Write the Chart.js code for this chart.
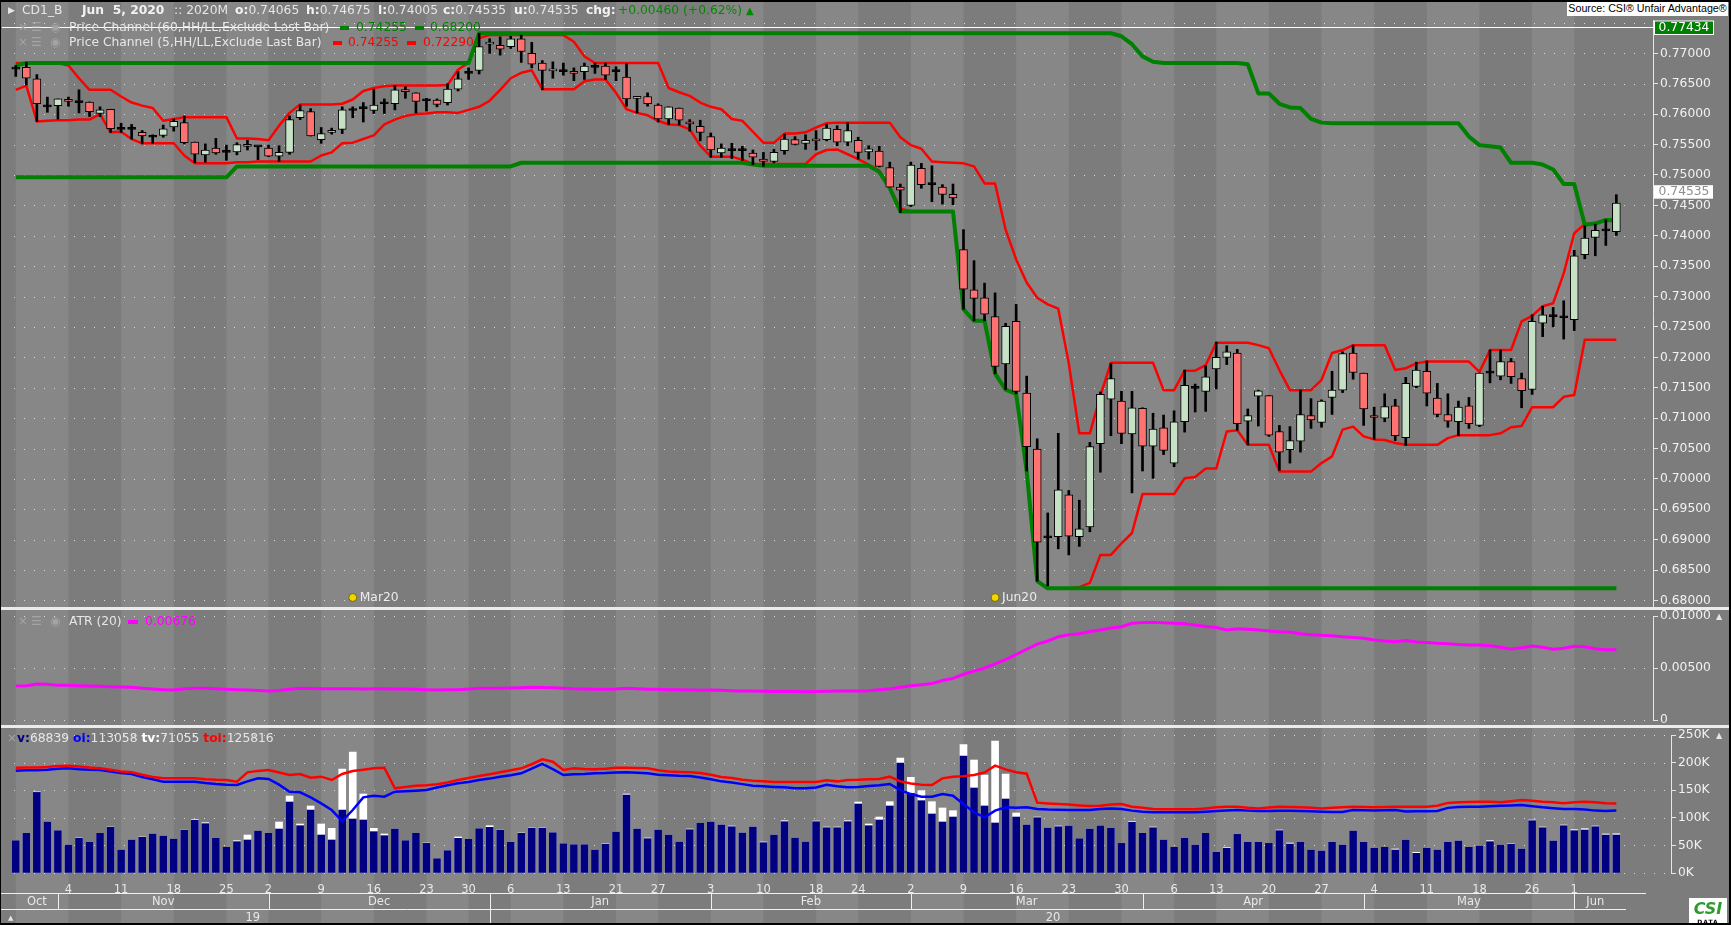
<!DOCTYPE html>
<html>
<head>
<meta charset="utf-8">
<script src="https://cdn.jsdelivr.net/npm/chart.js"></script>
<style>
  body { margin:0; width:1731px; height:925px; overflow:hidden; position:relative; background:#7c7c7c;
         font-family:'DejaVu Sans', sans-serif; font-size:12.3px; color:#e6e6e6; }
  canvas { position:absolute; left:0; }
  .t { position:absolute; white-space:pre; line-height:15px; }
  .b { font-weight:bold; color:#f2f2f2; }
  .ic { position:absolute; color:#a4a4a4; line-height:15px; font-size:12px; }
  .sq { position:absolute; width:9px; height:4px; }
  .sep { position:absolute; left:0; width:1731px; height:3px; background:#ececec; }
</style>
</head>
<body>
<canvas id="main" width="1731" height="607" style="top:0"></canvas>
<div class="sep" style="top:607px"></div>
<canvas id="atr" width="1731" height="115" style="top:610px"></canvas>
<div class="sep" style="top:725px"></div>
<canvas id="vol" width="1731" height="197" style="top:728px"></canvas>

<!-- header line -->
<div class="t" style="left:8px;top:3px;font-size:9px">▶</div>
<div class="t" style="left:22px;top:3px">CD1_B</div>
<div class="t b" style="left:82px;top:3px">Jun  5, 2020</div>
<div class="t" style="left:174px;top:3px">:: 2020M</div>
<div class="t" style="left:235px;top:3px"><b class="b">o:</b>0.74065</div>
<div class="t" style="left:306px;top:3px"><b class="b">h:</b>0.74675</div>
<div class="t" style="left:378px;top:3px"><b class="b">l:</b>0.74005</div>
<div class="t" style="left:443px;top:3px"><b class="b">c:</b>0.74535</div>
<div class="t" style="left:514px;top:3px"><b class="b">u:</b>0.74535</div>
<div class="t b" style="left:586px;top:3px">chg:</div>
<div class="t" style="left:618px;top:3px;color:#008a00">+0.00460 (+0.62%)</div>
<div class="t" style="left:746px;top:3px;color:#008a00;font-size:10px">▲</div>
<div class="t" style="left:1567px;top:1px;width:161px;height:15px;background:#fff;color:#000;font-family:'Liberation Sans';font-size:10.7px;text-align:center">Source: CSI® Unfair Advantage®</div>

<!-- price channel legends -->
<div class="ic" style="left:18px;top:20px">×</div><div class="ic" style="left:31px;top:20px">☰</div><div class="ic" style="left:50px;top:20px">◉</div>
<div class="t" style="left:69px;top:20px">Price Channel (60,HH/LL,Exclude Last Bar)</div>
<div class="sq" style="left:340px;top:26px;background:#008000"></div>
<div class="t" style="left:356px;top:20px;color:#008000">0.74255</div>
<div class="sq" style="left:415px;top:26px;background:#008000"></div>
<div class="t" style="left:430px;top:20px;color:#008000">0.68200</div>

<div class="ic" style="left:18px;top:35px">×</div><div class="ic" style="left:31px;top:35px">☰</div><div class="ic" style="left:50px;top:35px">◉</div>
<div class="t" style="left:69px;top:35px">Price Channel (5,HH/LL,Exclude Last Bar)</div>
<div class="sq" style="left:333px;top:41px;background:#ff0000"></div>
<div class="t" style="left:348px;top:35px;color:#ff0000">0.74255</div>
<div class="sq" style="left:407px;top:41px;background:#ff0000"></div>
<div class="t" style="left:423px;top:35px;color:#ff0000">0.72290</div>

<!-- ATR legend -->
<div class="ic" style="left:18px;top:614px">×</div><div class="ic" style="left:31px;top:614px">☰</div><div class="ic" style="left:50px;top:614px">◉</div>
<div class="t" style="left:69px;top:614px">ATR (20)</div>
<div class="sq" style="left:128px;top:620px;width:10px;background:#ff00ff"></div>
<div class="t" style="left:145px;top:614px;color:#ff00ff">0.00676</div>
<div class="t" style="left:1716px;top:609px;font-size:8px">▲</div>

<!-- volume legend -->
<div class="ic" style="left:7px;top:731px">×</div>
<div class="t" style="left:17px;top:731px"><b style="color:#000080">v:</b>68839 <b style="color:#0000ff">oi:</b>113058 <b style="color:#fff">tv:</b>71055 <b style="color:#ff0000">toi:</b>125816</div>
<div class="t" style="left:1716px;top:728px;font-size:8px">▲</div>
<div class="t" style="left:8px;top:911px;font-size:7px">▲</div>

<!-- CSI logo -->
<div style="position:absolute;left:1689px;top:898px;width:38px;height:25px;background:#fff;text-align:center;line-height:1">
  <div style="font:italic bold 16px 'DejaVu Sans';color:#2f9a2f;margin-top:1px">CSI</div>
  <div style="font:bold 6px 'DejaVu Sans';color:#000;letter-spacing:1px">DATA</div>
</div>
<div style="position:absolute;left:0;top:0;width:1731px;height:925px;box-sizing:border-box;border:2px solid #000;border-left-width:1px;pointer-events:none"></div>

<script>
// ---- trading days (categories) ----
const holidays = ['2019-11-28', '2019-12-25', '2020-01-01', '2020-01-20', '2020-02-17', '2020-04-10', '2020-05-25'];
const dates = [];
for (let d = new Date(Date.UTC(2019, 9, 28)); d <= new Date(Date.UTC(2020, 5, 5)); d.setUTCDate(d.getUTCDate() + 1)) {
  const s = d.toISOString().slice(0, 10);
  const wd = d.getUTCDay();
  if (wd === 0 || wd === 6 || holidays.includes(s)) continue;
  dates.push(s);
}
const monthNames = ['Jan', 'Feb', 'Mar', 'Apr', 'May', 'Jun', 'Jul', 'Aug', 'Sep', 'Oct', 'Nov', 'Dec'];

// ---- OHLC ----
const open = [
  .7674, .7677, .7658, .7612, .7614, .7624, .7619, .7620, .7601, .7608,
  .7575, .7575, .7570, .7562, .7565, .7579, .7586, .7554, .7533, .7544,
  .7537, .7538, .7550, .7546, .7544, .7531, .7537, .7594, .7604, .7558,
  .7570, .7575, .7606, .7609, .7606, .7617, .7617, .7640, .7635, .7622,
  .7623, .7619, .7641, .7667, .7672, .7715, .7713, .7711, .7724, .7700,
  .7684, .7671, .7670, .7670, .7670, .7677, .7679, .7670, .7661, .7626,
  .7629, .7615, .7592, .7610, .7587, .7580, .7563, .7536, .7540, .7540,
  .7536, .7526, .7522, .7540, .7558, .7552, .7559, .7558, .7575, .7554,
  .7557, .7538, .7539, .7512, .7480, .7450, .7511, .7484, .7480, .7468,
  .7377, .7311, .7298, .7267, .7189, .7259, .7141, .7049, .6903, .6905,
  .6974, .6905, .6921, .7058, .7131, .7128, .7074, .7116, .7054, .7084,
  .7026, .7094, .7149, .7144, .7181, .7200, .7207, .7095, .7136, .7137,
  .7078, .7048, .7062, .7104, .7093, .7134, .7146, .7207, .7174, .7104,
  .7100, .7120, .7068, .7152, .7177, .7133, .7106, .7094, .7120, .7088,
  .7174, .7169, .7193, .7165, .7147, .7256, .7267, .7265, .7262, .7369,
  .7397, .7408, .74065];
const high = [
  .7680, .7685, .7665, .7628, .7625, .7628, .7640, .7620, .7612, .7608,
  .7585, .7583, .7573, .7566, .7582, .7592, .7597, .7554, .7551, .7560,
  .7549, .7553, .7557, .7547, .7549, .7548, .7597, .7615, .7609, .7578,
  .7577, .7612, .7612, .7619, .7641, .7625, .7647, .7645, .7635, .7626,
  .7625, .7650, .7670, .7676, .7733, .7724, .7727, .7728, .7730, .7718,
  .7688, .7686, .7684, .7676, .7684, .7684, .7684, .7678, .7683, .7629,
  .7635, .7617, .7612, .7610, .7591, .7590, .7569, .7551, .7552, .7547,
  .7541, .7537, .7542, .7567, .7563, .7566, .7573, .7583, .7581, .7586,
  .7562, .7548, .7547, .7521, .7485, .7521, .7519, .7515, .7484, .7485,
  .7410, .7359, .7322, .7306, .7256, .7287, .7169, .7066, .6944, .7075,
  .6981, .6965, .7060, .7143, .7190, .7144, .7144, .7117, .7108, .7105,
  .7112, .7179, .7156, .7186, .7225, .7219, .7213, .7115, .7146, .7137,
  .7088, .7086, .7146, .7132, .7130, .7177, .7209, .7220, .7174, .7118,
  .7140, .7131, .7167, .7192, .7194, .7157, .7140, .7128, .7134, .7174,
  .7212, .7212, .7198, .7174, .7270, .7284, .7282, .7293, .7376, .7416,
  .7419, .7426, .74675];
const low = [
  .7662, .7648, .7588, .7603, .7592, .7613, .7602, .7596, .7596, .7570,
  .7570, .7559, .7551, .7552, .7562, .7572, .7551, .7520, .7521, .7534,
  .7524, .7533, .7541, .7525, .7530, .7522, .7534, .7591, .7564, .7552,
  .7567, .7568, .7594, .7587, .7601, .7601, .7607, .7626, .7602, .7605,
  .7612, .7615, .7638, .7657, .7666, .7700, .7697, .7708, .7685, .7676,
  .7640, .7659, .7664, .7655, .7657, .7667, .7657, .7655, .7613, .7602,
  .7613, .7587, .7583, .7582, .7572, .7556, .7529, .7529, .7527, .7524,
  .7517, .7514, .7520, .7534, .7549, .7542, .7541, .7556, .7548, .7548,
  .7526, .7526, .7513, .7480, .7438, .7448, .7478, .7456, .7452, .7451,
  .7279, .7260, .7260, .7173, .7147, .7140, .7013, .6832, .6824, .6885,
  .6875, .6889, .6913, .7011, .7071, .7058, .6977, .7013, .7001, .7040,
  .7020, .7077, .7110, .7111, .7148, .7188, .7080, .7056, .7087, .7070,
  .7014, .7026, .7044, .7083, .7085, .7106, .7142, .7164, .7088, .7065,
  .7094, .7063, .7055, .7150, .7120, .7102, .7085, .7071, .7083, .7086,
  .7158, .7163, .7157, .7117, .7139, .7234, .7250, .7230, .7244, .7362,
  .7367, .7384, .74005];
const close = [
  .7674, .7659, .7617, .7612, .7625, .7621, .7619, .7604, .7607, .7576,
  .7575, .7575, .7564, .7562, .7576, .7588, .7553, .7534, .7541, .7536,
  .7537, .7550, .7547, .7546, .7531, .7537, .7591, .7606, .7564, .7568,
  .7573, .7607, .7606, .7609, .7615, .7617, .7640, .7637, .7621, .7622,
  .7616, .7641, .7658, .7667, .7711, .7718, .7707, .7724, .7703, .7682,
  .7672, .7674, .7670, .7667, .7679, .7677, .7664, .7670, .7625, .7629,
  .7617, .7592, .7612, .7590, .7584, .7570, .7541, .7544, .7540, .7540,
  .7529, .7522, .7537, .7559, .7550, .7557, .7556, .7577, .7554, .7573,
  .7537, .7543, .7514, .7480, .7475, .7516, .7484, .7484, .7468, .7462,
  .7312, .7297, .7271, .7185, .7251, .7144, .7053, .6896, .6903, .6982,
  .6906, .6918, .7053, .7139, .7165, .7075, .7117, .7054, .7082, .7047,
  .7094, .7154, .7149, .7168, .7200, .7209, .7091, .7104, .7145, .7072,
  .7044, .7063, .7106, .7097, .7128, .7146, .7206, .7175, .7115, .7101,
  .7119, .7071, .7157, .7179, .7141, .7106, .7095, .7118, .7091, .7174,
  .7174, .7193, .7168, .7145, .7259, .7270, .7267, .7265, .7367, .7396,
  .7409, .7408, .74535];

// ---- Price Channel (60) ----
const ch60Upper = [
  .7680, .7684, .7684, .7684, .7684, .7684, .7684, .7684, .7684, .7684,
  .7684, .7684, .7684, .7684, .7684, .7684, .7684, .7684, .7684, .7684,
  .7684, .7684, .7684, .7684, .7684, .7684, .7684, .7684, .7684, .7684,
  .7684, .7684, .7684, .7684, .7684, .7684, .7684, .7684, .7684, .7684,
  .7684, .7684, .7684, .7684, .7733, .7733, .7733, .7733, .7733, .7733,
  .7733, .7733, .7733, .7733, .7733, .7733, .7733, .7733, .7733, .7733,
  .7733, .7733, .7733, .7733, .7733, .7733, .7733, .7733, .7733, .7733,
  .7733, .7733, .7733, .7733, .7733, .7733, .7733, .7733, .7733, .7733,
  .7733, .7733, .7733, .7733, .7733, .7733, .7733, .7733, .7733, .7733,
  .7733, .7733, .7733, .7733, .7733, .7733, .7733, .7733, .7733, .7733,
  .7733, .7733, .7733, .7733, .7733, .7728, .7715, .7695, .7686, .7684,
  .7684, .7684, .7684, .7684, .7684, .7684, .7684, .7682, .7634, .7634,
  .7617, .7611, .7610, .7592, .7586, .7585, .7585, .7585, .7585, .7585,
  .7585, .7585, .7585, .7585, .7585, .7585, .7585, .7585, .7563, .7549,
  .7547, .7545, .7520, .7520, .7520, .7517, .7509, .7485, .7485, .7418,
  .7420, .7426, .74255];
const ch60Lower = [
  .7496, .7496, .7496, .7496, .7496, .7496, .7496, .7496, .7496, .7496,
  .7496, .7496, .7496, .7496, .7496, .7496, .7496, .7496, .7496, .7496,
  .7496, .7514, .7514, .7514, .7514, .7514, .7514, .7514, .7514, .7514,
  .7514, .7514, .7514, .7514, .7514, .7514, .7514, .7514, .7514, .7514,
  .7514, .7514, .7514, .7514, .7514, .7514, .7514, .7514, .7520, .7520,
  .7520, .7520, .7520, .7520, .7520, .7520, .7520, .7520, .7520, .7520,
  .7520, .7520, .7520, .7520, .7520, .7520, .7520, .7520, .7520, .7520,
  .7517, .7515, .7515, .7515, .7515, .7515, .7515, .7515, .7515, .7515,
  .7515, .7515, .7505, .7478, .7440, .7440, .7440, .7440, .7440, .7440,
  .7279, .7260, .7260, .7173, .7147, .7140, .7013, .6832, .6820, .6820,
  .6820, .6820, .6820, .6820, .6820, .6820, .6820, .6820, .6820, .6820,
  .6820, .6820, .6820, .6820, .6820, .6820, .6820, .6820, .6820, .6820,
  .6820, .6820, .6820, .6820, .6820, .6820, .6820, .6820, .6820, .6820,
  .6820, .6820, .6820, .6820, .6820, .6820, .6820, .6820, .6820, .6820,
  .6820, .6820, .6820, .6820, .6820, .6820, .6820, .6820, .6820, .6820,
  .6820, .6820, .6820];

// ---- Price Channel (5) ----
const ch5Upper = [
  .7684, .7684, .7684, .7684, .7684, .7680, .7659, .7640, .7640, .7640,
  .7629, .7619, .7614, .7610, .7589, .7592, .7595, .7595, .7595, .7595,
  .7595, .7560, .7560, .7559, .7557, .7581, .7602, .7616, .7616, .7616,
  .7616, .7617, .7624, .7638, .7643, .7646, .7647, .7647, .7647, .7647,
  .7647, .7648, .7673, .7685, .7725, .7730, .7730, .7730, .7730, .7730,
  .7730, .7730, .7730, .7719, .7695, .7684, .7684, .7684, .7684, .7684,
  .7684, .7684, .7643, .7636, .7630, .7619, .7612, .7608, .7592, .7589,
  .7571, .7553, .7553, .7568, .7568, .7570, .7578, .7585, .7586, .7586,
  .7586, .7586, .7586, .7586, .7562, .7549, .7543, .7522, .7521, .7520,
  .7519, .7514, .7486, .7486, .7410, .7361, .7323, .7298, .7287, .7280,
  .7190, .7075, .7075, .7137, .7191, .7191, .7191, .7191, .7191, .7146,
  .7146, .7178, .7178, .7187, .7224, .7224, .7224, .7224, .7220, .7215,
  .7179, .7146, .7146, .7146, .7163, .7207, .7212, .7220, .7220, .7220,
  .7220, .7179, .7182, .7190, .7193, .7193, .7193, .7193, .7193, .7176,
  .7212, .7212, .7212, .7259, .7268, .7284, .7289, .7338, .7404, .7419,
  .7421, .7426, .74255];
const ch5Lower = [
  .7640, .7647, .7588, .7589, .7590, .7590, .7591, .7591, .7600, .7570,
  .7571, .7559, .7552, .7552, .7552, .7552, .7532, .7519, .7519, .7519,
  .7519, .7521, .7521, .7522, .7522, .7522, .7522, .7522, .7522, .7532,
  .7537, .7552, .7553, .7559, .7565, .7583, .7591, .7597, .7600, .7601,
  .7603, .7603, .7602, .7607, .7612, .7622, .7640, .7659, .7668, .7672,
  .7641, .7641, .7641, .7641, .7654, .7657, .7657, .7635, .7608, .7602,
  .7598, .7589, .7583, .7582, .7575, .7548, .7530, .7530, .7530, .7525,
  .7518, .7518, .7518, .7518, .7518, .7518, .7534, .7541, .7542, .7534,
  .7526, .7517, .7507, .7480, .7445, .7440, .7440, .7440, .7440, .7440,
  .7279, .7260, .7260, .7173, .7147, .7140, .7013, .6832, .6820, .6820,
  .6820, .6822, .6829, .6875, .6875, .6894, .6911, .6975, .6975, .6975,
  .6975, .7001, .7003, .7017, .7017, .7078, .7080, .7056, .7056, .7056,
  .7012, .7012, .7012, .7012, .7026, .7037, .7081, .7086, .7070, .7065,
  .7064, .7059, .7056, .7056, .7056, .7056, .7067, .7072, .7072, .7072,
  .7072, .7075, .7085, .7087, .7118, .7118, .7118, .7135, .7138, .7229,
  .7229, .7229, .7229];

// ---- ATR (20) ----
const atr = [
  .00327, .00330, .00346, .00344, .00333, .00333, .00330, .00327, .00324, .00320,
  .00317, .00314, .00305, .00298, .00292, .00288, .00300, .00305, .00305, .00300,
  .00295, .00292, .00288, .00283, .00279, .00283, .00295, .00305, .00302, .00301,
  .00301, .00301, .00300, .00298, .00300, .00301, .00298, .00298, .00295, .00292,
  .00288, .00290, .00292, .00298, .00305, .00305, .00305, .00308, .00310, .00314,
  .00312, .00311, .00305, .00300, .00298, .00295, .00295, .00298, .00305, .00300,
  .00295, .00295, .00292, .00290, .00288, .00285, .00288, .00285, .00282, .00280,
  .00278, .00276, .00275, .00277, .00275, .00272, .00274, .00276, .00278, .00280,
  .00280, .00282, .00290, .00300, .00315, .00330, .00340, .00350, .00380, .00400,
  .00440, .00470, .00500, .00540, .00580, .00630, .00680, .00730, .00760, .00800,
  .00820, .00830, .00850, .00865, .00885, .00897, .00930, .00938, .00940, .00935,
  .00930, .00925, .00913, .00900, .00890, .00865, .00878, .00872, .00865, .00855,
  .00846, .00845, .00830, .00820, .00815, .00810, .00800, .00793, .00785, .00770,
  .00760, .00753, .00765, .00750, .00745, .00737, .00732, .00725, .00722, .00720,
  .00715, .00700, .00683, .00695, .00712, .00700, .00680, .00690, .00710, .00705,
  .00685, .00675, .00676];

// ---- volume / open interest, thousands ----
const vol = [
  58.6, 71.9, 146, 92.4, 76.7, 50.7, 62.8, 55.6, 71.9, 82.7,
  41.7, 59.8, 64.6, 70.7, 67, 61.6, 77.9, 95.4, 89.4, 62.8,
  46.5, 56.8, 59.8, 76.1, 71.9, 79.7, 128.6, 85.7, 114, 68.8,
  59.8, 114, 97.8, 96, 74.9, 67.6, 79.7, 58.6, 71.9, 53.7,
  26, 40.5, 62.8, 61, 80.3, 82.7, 77.9, 55.6, 71.9, 80.9,
  80.9, 73, 53.1, 51.3, 51.3, 41.7, 52.5, 74.3, 141.3, 79.7,
  62.2, 77.9, 68.8, 56.2, 78.5, 90, 92.4, 87, 83.9, 72.5,
  83.3, 55, 68.8, 93, 63.4, 56.2, 93, 82.1, 82.1, 93,
  125, 85.7, 96, 121.4, 199.3, 144.3, 131, 106.9, 92.4, 101.4,
  212, 154, 121.4, 90.6, 134, 101.4, 87, 100.2, 81.5, 83.9,
  85.1, 62.2, 79.7, 85.7, 80.9, 53.7, 91.8, 71.9, 82.1, 59.8,
  46.5, 62.8, 50.7, 71.9, 37.4, 44.7, 70, 55.6, 55.6, 53.7,
  76.7, 52.5, 55.6, 41.7, 39.9, 55.6, 50.7, 76.1, 55.6, 44.7,
  46.5, 41.7, 59.8, 35.6, 44.7, 41.7, 55.6, 58, 46.5, 48.9,
  56.8, 50.7, 52.5, 43.5, 94.8, 82.1, 58, 85.7, 76.7, 77.9,
  83.9, 68.8, 68.839];
const totalVol = [
  58.6, 71.9, 147, 92.4, 76.7, 50.7, 63.4, 55.6, 71.9, 83.3,
  41.7, 59.8, 65.2, 70.7, 67, 61.6, 78.5, 96.6, 91.2, 62.8,
  46.5, 58.6, 68.8, 76.1, 71.9, 92.4, 139.5, 88.8, 121.4, 88.8,
  80.9, 188.4, 219.2, 143.1, 80.9, 70.7, 79.7, 58.6, 71.9, 54.3,
  26, 40.5, 65.2, 61, 80.3, 85.7, 78.5, 55.6, 72.5, 81.5,
  81.5, 73, 53.1, 51.3, 51.3, 41.7, 53.7, 74.3, 143.1, 79.7,
  63.4, 77.9, 68.8, 56.2, 79.7, 90, 92.4, 87, 85.1, 72.5,
  83.3, 56.2, 68.8, 94.8, 63.4, 56.2, 94.2, 83.3, 83.3, 94.8,
  128.6, 88.8, 101.4, 129.2, 208.3, 173.3, 149.2, 129.2, 117.8, 112.9,
  232.5, 204.7, 177.5, 239, 179.3, 108.7, 87, 101.4, 81.5, 85.1,
  85.1, 62.2, 79.7, 86.4, 80.9, 53.7, 93, 71.9, 83.3, 59.8,
  46.5, 62.8, 50.7, 71.9, 37.4, 45.9, 70, 55.6, 55.6, 53.7,
  77.9, 54.3, 55.6, 41.7, 39.9, 55.6, 50.7, 76.1, 55.6, 44.7,
  46.5, 43.5, 59.8, 37.4, 44.7, 41.7, 55.6, 58, 46.5, 48.9,
  58.6, 50.7, 53.7, 43.5, 96, 83.3, 58, 86.9, 78.5, 80.3,
  85.1, 70.7, 71.055];
const openInt = [
  185.4, 186, 186, 187, 189, 189.6, 188, 187, 186.6, 184,
  181, 179.3, 174, 170, 165.5, 165.5, 165.5, 165.5, 163, 161.2,
  160, 159.4, 166, 171.5, 170.3, 160, 147.3, 146.1, 137, 126.2,
  114.1, 94.2, 114.1, 137, 140.1, 138.3, 147.3, 148, 149, 150.4,
  155, 159, 162.4, 165, 168.5, 171, 174.5, 177, 180.6, 189,
  197.5, 188, 177.5, 179, 179.3, 180.6, 181, 182, 182.4, 181.5,
  180.6, 178, 177, 176, 175.7, 173, 170, 166, 164, 161,
  158, 157, 156, 155.2, 153.6, 153.4, 155, 160, 157, 155.2,
  156, 157.6, 159, 161.2, 150, 143, 138.3, 138.3, 143, 140,
  125, 110, 100.8, 113, 119, 118.4, 119, 116, 115, 114.5,
  114.1, 114.1, 114.1, 116, 117, 116, 113, 111, 109.9, 109.9,
  109.9, 109.9, 109.9, 111, 112.3, 113, 114.1, 113, 112.3, 112.5,
  112.7, 112.9, 112.5, 112, 111.1, 110.5, 110.5, 114, 113.5, 113,
  113.5, 114, 111.5, 112, 112, 112.3, 118, 119.5, 120, 120.2,
  121, 122, 122.5, 123.2, 121, 119, 117.5, 116, 116, 115,
  113, 112.5, 113.058];
const totalOI = [
  190.8, 191, 191, 192, 194, 194.4, 193, 191, 189.6, 187,
  184, 182.4, 178, 174, 171.5, 171.5, 171.5, 171.5, 170, 169,
  168.5, 165.5, 182.4, 185, 186.6, 182, 177.5, 179.3, 172.7, 174.5,
  168.5, 179.3, 184.8, 187, 189.6, 190.8, 153.4, 156, 158.2, 159,
  160.6, 164, 168.5, 172, 175.7, 179, 182.4, 186, 189.6, 197,
  205.9, 201.7, 186.6, 189.6, 188.4, 188, 189, 190.8, 190.8, 190,
  189.6, 186, 184, 183, 182.4, 181, 178, 174, 172, 169,
  167, 166, 165, 164.9, 164.9, 164.9, 164.9, 168, 166, 168.5,
  169, 170, 170.3, 174.5, 166, 162, 160, 159.4, 171.5, 174.5,
  175.5, 177.5, 182, 194.4, 187.8, 182.4, 180, 127.4, 126, 125,
  124, 122.5, 121.4, 122, 124, 125, 120, 118, 116, 115.3,
  115.3, 115.3, 115.3, 117, 119, 120, 120, 118, 117, 118.5,
  120, 119.5, 119, 118, 117, 118, 119, 120, 119.5, 119,
  119.5, 120, 120, 120, 120, 122, 127, 128, 128.5, 129.2,
  129, 128, 130, 132.2, 131, 129.2, 128, 126.2, 128, 129.2,
  128, 126.5, 125.816];

// ---- axis ticks ----
const priceTicks = [0.680, 0.685, 0.690, 0.695, 0.700, 0.705, 0.710, 0.715, 0.720, 0.725,
                    0.730, 0.735, 0.740, 0.745, 0.750, 0.755, 0.760, 0.765, 0.770, 0.775];
const atrTicks = [0, 0.005, 0.010];
const volTicks = [0, 50, 100, 150, 200, 250];
const lastHigh = 0.77434;   // highlighted level at the top
const lastClose = 0.74535;
const contractMarks = [{ bar: 32, text: 'Mar20' }, { bar: 93, text: 'Jun20' }];

const series = { dates, open, high, low, close, ch60Upper, ch60Lower, ch5Upper, ch5Lower, atr, vol, totalVol, openInt, totalOI };
for (const k in series) if (series[k].length !== 153) throw new Error(k + ' length ' + series[k].length);

const idx = dates.map((_, i) => i);
const dow = s => new Date(s + 'T00:00:00Z').getUTCDay();
const weekStarts = idx.filter(i => i === 0 || dow(dates[i]) < dow(dates[i - 1]));
const monthStarts = idx.filter(i => i > 0 && dates[i].slice(5, 7) !== dates[i - 1].slice(5, 7));
const yearStarts = idx.filter(i => i > 0 && dates[i].slice(0, 4) !== dates[i - 1].slice(0, 4));

// pixel geometry shared by the three panels: bar i centred at 15.8 + 10.53 * i
const BAR0 = 15.8, STEP = 10.53, LEFT = 10;
const xMin = (LEFT - BAR0) / STEP;
const xMaxFor = right => (right - BAR0) / STEP;

Chart.defaults.font.family = "'DejaVu Sans', sans-serif";
Chart.defaults.font.size = 12.3;
Chart.defaults.color = '#f0f0f0';

const stripes = {
  id: 'stripes',
  beforeDraw(chart) {
    const { ctx, width, height, chartArea } = chart;
    const x = chart.scales.x;
    ctx.save();
    ctx.fillStyle = '#7c7c7c';
    ctx.fillRect(0, 0, width, height);
    ctx.fillStyle = '#878787';
    weekStarts.forEach((s, k) => {
      if (k % 2) return;
      const a = x.getPixelForValue(s);
      const b = k + 1 < weekStarts.length ? x.getPixelForValue(weekStarts[k + 1]) : chartArea.right;
      ctx.fillRect(a, 0, b - a, height);
    });
    ctx.restore();
  }
};

const dots = {
  id: 'dots',
  beforeDatasetsDraw(chart) {
    const { ctx, chartArea } = chart;
    const y = chart.scales.y;
    ctx.save();
    ctx.fillStyle = 'rgba(228,228,228,0.9)';
    y.ticks.forEach(t => {
      const py = Math.round(y.getPixelForValue(t.value));
      for (let px = chartArea.left + 4; px < chartArea.right - 2; px += 10) ctx.fillRect(px, py, 1, 1);
    });
    ctx.restore();
  }
};

const yAxis = (width, ticks, fmt, min, max) => ({
  position: 'right', min, max,
  afterBuildTicks: s => { s.ticks = ticks.map(v => ({ value: v })); },
  afterFit: s => { s.width = width; s.paddingTop = 0; s.paddingBottom = 0; },
  grid: { drawOnChartArea: false, drawTicks: true, tickLength: 5, tickColor: '#e6e6e6', tickWidth: 1 },
  border: { color: '#e6e6e6', width: 1 },
  ticks: { color: '#f2f2f2', font: { size: 12.3 }, padding: 2, callback: fmt }
});

const baseOpts = (padding, xMax, y) => ({
  responsive: false, animation: false, devicePixelRatio: 1,
  layout: { padding },
  plugins: { legend: { display: false }, tooltip: { enabled: false } },
  scales: { x: { type: 'linear', display: false, min: xMin, max: xMax, offset: false }, y }
});

// ---------- price panel ----------
const bodyColors = open.map((o, i) => close[i] > o ? '#c6e1c6' : close[i] < o ? '#ff7272' : '#000000');
const priceMarks = {
  id: 'priceMarks',
  afterDraw(chart) {
    const { ctx, chartArea } = chart;
    const x = chart.scales.x, y = chart.scales.y;
    ctx.save();
    // highlighted level line + label
    const yh = Math.round(y.getPixelForValue(lastHigh)) + 0.5;
    ctx.strokeStyle = '#ffffff'; ctx.lineWidth = 1;
    ctx.beginPath(); ctx.moveTo(2, yh); ctx.lineTo(chartArea.right, yh); ctx.stroke();
    ctx.font = "12.3px 'DejaVu Sans'"; ctx.textBaseline = 'middle'; ctx.textAlign = 'center';
    ctx.fillStyle = '#008000'; ctx.fillRect(chartArea.right + 1, yh - 6.5, 59, 13.5);
    ctx.strokeStyle = '#ffffff'; ctx.strokeRect(chartArea.right + 1.5, yh - 6.5, 59, 13.5);
    ctx.fillStyle = '#ffffff'; ctx.fillText(lastHigh.toFixed(5), chartArea.right + 31, yh + 0.5);
    // last close label, lifted above the tick label it would cover
    const yc = y.getPixelForValue(lastClose) - 11.5;
    ctx.fillStyle = '#ffffff'; ctx.fillRect(chartArea.right + 1, yc - 6.5, 59, 13.5);
    ctx.fillStyle = '#8e8e8e'; ctx.fillText(lastClose.toFixed(5), chartArea.right + 31, yc + 0.5);
    // contract markers
    ctx.textAlign = 'left';
    contractMarks.forEach(m => {
      const px = x.getPixelForValue(m.bar), py = chartArea.bottom - 8.5;
      ctx.beginPath(); ctx.arc(px, py, 4, 0, Math.PI * 2);
      ctx.fillStyle = '#f3d400'; ctx.fill();
      ctx.strokeStyle = '#6d6d00'; ctx.lineWidth = 1; ctx.stroke();
      ctx.fillStyle = '#ececec'; ctx.fillText(m.text, px + 7, py + 0.5);
    });
    ctx.restore();
  }
};

new Chart(document.getElementById('main'), {
  type: 'bar',
  data: {
    labels: idx,
    datasets: [
      { type: 'bar', data: open.map((o, i) => [o, close[i]]), backgroundColor: bodyColors, borderColor: '#000',
        borderWidth: 1, borderSkipped: false, barThickness: 8, minBarLength: 2, grouped: false, order: 0 },
      { type: 'bar', data: low.map((l, i) => [l, high[i]]), backgroundColor: '#000', borderWidth: 0,
        barThickness: 2, grouped: false, order: 1 },
      { type: 'line', data: ch60Upper, borderColor: '#008000', borderWidth: 4, pointRadius: 0, tension: 0, borderJoinStyle: 'round', order: 2 },
      { type: 'line', data: ch60Lower, borderColor: '#008000', borderWidth: 4, pointRadius: 0, tension: 0, borderJoinStyle: 'round', order: 2 },
      { type: 'line', data: ch5Upper, borderColor: '#ff0000', borderWidth: 2.5, pointRadius: 0, tension: 0, borderJoinStyle: 'round', order: 3 },
      { type: 'line', data: ch5Lower, borderColor: '#ff0000', borderWidth: 2.5, pointRadius: 0, tension: 0, borderJoinStyle: 'round', order: 3 }
    ]
  },
  options: baseOpts({ left: LEFT, top: 20, bottom: 1, right: 0 }, xMaxFor(1653),
    yAxis(78, priceTicks, v => v > 0.7744 ? '' : v.toFixed(5), 0.679095, 0.77548)),
  plugins: [stripes, dots, priceMarks]
});

// ---------- ATR panel ----------
new Chart(document.getElementById('atr'), {
  type: 'line',
  data: {
    labels: idx,
    datasets: [{ data: atr, borderColor: '#ff00ff', borderWidth: 3, pointRadius: 0, tension: 0 }]
  },
  options: baseOpts({ left: LEFT, top: 6, bottom: 5, right: 0 }, xMaxFor(1653),
    yAxis(78, atrTicks, v => v === 0 ? '0' : v.toFixed(5), 0, 0.01)),
  plugins: [stripes, dots]
});

// ---------- volume / open interest panel ----------
const timeRows = {
  id: 'timeRows',
  afterDraw(chart) {
    const { ctx } = chart;
    const x = chart.scales.x;
    const yTop = 165.5, yMid = 181.5, yEnd = 197;
    const px = i => Math.round(x.getPixelForValue(i)) + 0.5;
    ctx.save();
    ctx.strokeStyle = '#f0f0f0'; ctx.lineWidth = 1;
    ctx.beginPath();
    ctx.moveTo(1, yTop); ctx.lineTo(1646, yTop);
    ctx.moveTo(1, yMid); ctx.lineTo(1626, yMid);
    monthStarts.forEach(i => { ctx.moveTo(px(i), yTop); ctx.lineTo(px(i), yMid); });
    yearStarts.forEach(i => { ctx.moveTo(px(i), yMid); ctx.lineTo(px(i), yEnd); });
    ctx.stroke();
    ctx.fillStyle = '#e8e8e8'; ctx.font = "11.5px 'DejaVu Sans'";
    ctx.textAlign = 'center'; ctx.textBaseline = 'middle';
    const last = dates.length - 1;
    const mb = [0, ...monthStarts, last];
    for (let k = 0; k < mb.length - 1; k++) {
      const m = +dates[mb[k]].slice(5, 7) - 1;
      ctx.fillText(monthNames[m], (x.getPixelForValue(mb[k]) + x.getPixelForValue(mb[k + 1])) / 2, 174);
    }
    const yb = [0, ...yearStarts, last];
    for (let k = 0; k < yb.length - 1; k++) {
      ctx.fillText(dates[yb[k]].slice(2, 4), (x.getPixelForValue(yb[k]) + x.getPixelForValue(yb[k + 1])) / 2, 190.5);
    }
    ctx.restore();
  }
};

const volOpts = baseOpts({ left: LEFT, top: 7, bottom: 0, right: 0 }, xMaxFor(1671),
  yAxis(60, volTicks, v => v + 'K', 0, 250));
volOpts.scales.x = {
  type: 'linear', display: true, position: 'bottom', min: xMin, max: xMaxFor(1671), offset: false,
  afterBuildTicks: s => { s.ticks = weekStarts.slice(1).map(v => ({ value: v })); },
  afterFit: s => { s.height = 52; s.paddingLeft = 0; s.paddingRight = 0; },
  grid: { display: false }, border: { display: false },
  ticks: { autoSkip: false, maxRotation: 0, padding: 2, color: '#e8e8e8', font: { size: 11.5 },
           callback: v => String(+dates[v].slice(8, 10)) }
};

new Chart(document.getElementById('vol'), {
  type: 'bar',
  data: {
    labels: idx,
    datasets: [
      { type: 'line', data: totalOI, borderColor: '#ff0000', borderWidth: 2.5, pointRadius: 0, tension: 0, order: 0 },
      { type: 'line', data: openInt, borderColor: '#0000ff', borderWidth: 2.5, pointRadius: 0, tension: 0, order: 1 },
      { type: 'bar', data: vol, backgroundColor: '#000080', borderWidth: 0, barThickness: 7, grouped: false, order: 2 },
      { type: 'bar', data: totalVol, backgroundColor: '#ffffff', borderWidth: 0, barThickness: 7, grouped: false, order: 3 }
    ]
  },
  options: volOpts,
  plugins: [stripes, dots, timeRows]
});
</script>
</body>
</html>
